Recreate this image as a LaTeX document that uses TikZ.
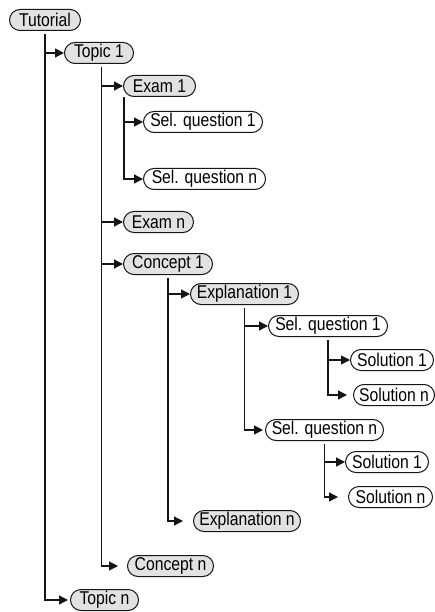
\documentclass[tikz,border=0pt]{standalone}
\usepackage{fontspec}
\setmainfont{Liberation Sans}[FakeStretch=0.85]
\usetikzlibrary{arrows.meta}
\definecolor{nodegray}{HTML}{E2E2E2}
\definecolor{edgecol}{HTML}{151515}
\begin{document}
\begin{tikzpicture}[x=1pt,y=-1pt,
  box/.style={draw=edgecol, line width=1pt, rounded corners=10.5pt,
    minimum height=21pt, inner sep=0pt, anchor=west,
    font=\fontsize{18.5}{20}\selectfont},
  greybox/.style={box, fill=nodegray},
  plainbox/.style={box, fill=white},
  link/.style={draw=edgecol, line width=1.3pt,
    -{Triangle[length=9pt,width=9pt]}},
  trunk/.style={link, shorten <=3pt},
]
\useasboundingbox (0,0) rectangle (435,612);

\node[greybox,  minimum width=71pt]  (tut)   at (9,20)    {Tutorial};
\node[greybox,  minimum width=69pt]  (top1)  at (64,53)   {Topic 1};
\node[greybox,  minimum width=72pt]  (ex1)   at (123,86)  {Exam 1};
\node[plainbox, minimum width=119pt] (sq1a)  at (143,122) {Sel. question 1};
\node[plainbox, minimum width=122pt] (sqna)  at (143,179) {Sel. question n};
\node[greybox,  minimum width=70pt]  (exn)   at (123,222) {Exam n};
\node[greybox,  minimum width=89pt]  (con1)  at (123,264) {Concept 1};
\node[greybox,  minimum width=108pt] (expl1) at (190,294) {Explanation 1};
\node[plainbox, minimum width=119pt] (sq1b)  at (268,326) {Sel. question 1};
\node[plainbox, minimum width=83pt]  (sol1a) at (350,360) {Solution 1};
\node[plainbox, minimum width=81pt]  (solna) at (353,395) {Solution n};
\node[plainbox, minimum width=118pt] (sqnb)  at (265,430) {Sel. question n};
\node[plainbox, minimum width=83pt]  (sol1b) at (345,462) {Solution 1};
\node[plainbox, minimum width=84pt]  (solnb) at (348,497) {Solution n};
\node[greybox,  minimum width=107pt] (expln) at (193,521) {Explanation n};
\node[greybox,  minimum width=86pt]  (cpn)   at (127,566) {Concept n};
\node[greybox,  minimum width=68pt]  (topn)  at (70,600)  {Topic n};

% Tutorial
\draw[trunk, shorten >=2pt] (tut.south) |- (topn.west);
\draw[link] (tut.south |- top1.west) -- (top1.west);

% Topic 1
\draw[trunk, shorten >=9pt] ([xshift=2.5pt]top1.south) |- (cpn.west);
\draw[link] ([xshift=2.5pt]top1.south |- ex1.west) -- (ex1.west);
\draw[link] ([xshift=2.5pt]top1.south |- exn.west) -- (exn.west);
\draw[link] ([xshift=2.5pt]top1.south |- con1.west) -- (con1.west);

% Exam 1
\draw[link] ([xshift=1pt]ex1.south west) |- (sqna.west);
\draw[link] ([xshift=1pt]ex1.south west |- sq1a.west) -- (sq1a.west);

% Concept 1
\draw[trunk, shorten >=10pt] (con1.south) |- (expln.west);
\draw[link] (con1.south |- expl1.west) -- (expl1.west);

% Explanation 1
\draw[trunk, shorten >=2pt] (expl1.south) |- (sqnb.west);
\draw[link] (expl1.south |- sq1b.west) -- (sq1b.west);

% Sel. question 1
\draw[trunk, shorten >=6pt] (sq1b.south) |- (solna.west);
\draw[link] (sq1b.south |- sol1a.west) -- (sol1a.west);

% Sel. question n
\draw[trunk, shorten >=10pt] (sqnb.south) |- (solnb.west);
\draw[link] (sqnb.south |- sol1b.west) -- (sol1b.west);
\end{tikzpicture}
\end{document}
